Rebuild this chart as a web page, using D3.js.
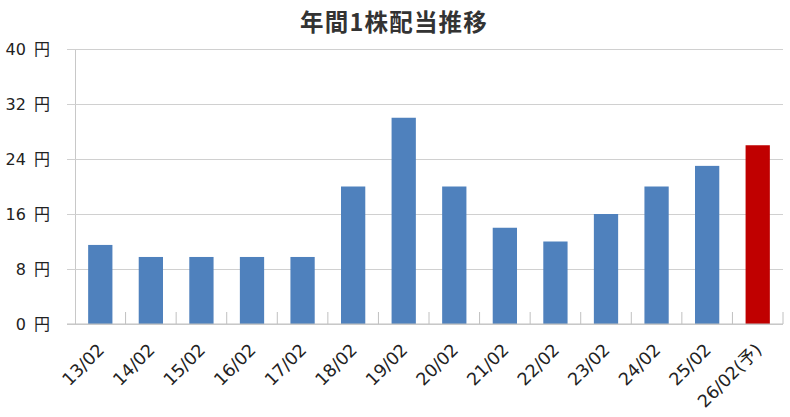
<!DOCTYPE html>
<html><head><meta charset="utf-8">
<script src="https://cdn.jsdelivr.net/npm/d3@7"></script>
<style>
html,body{margin:0;padding:0;background:#fff;}
svg{display:block;}
</style></head>
<body>
<svg id="chart" width="790" height="417"></svg>
<script>
const categories = ["13/02","14/02","15/02","16/02","17/02","18/02","19/02","20/02","21/02","22/02","23/02","24/02","25/02","26/02(予)"];
const dividends = [11.5, 9.75, 9.75, 9.75, 9.75, 20, 30, 20, 14, 12, 16, 20, 23, 26];
const forecast = [false,false,false,false,false,false,false,false,false,false,false,false,false,true];
const yTicks = [0, 8, 16, 24, 32, 40];
const title = "年間1株配当推移";

(function () {
const svg = d3.select("#chart");
const pLeft = 75, pRight = 783, pTop = 49, pBottom = 324;
const font = "'DejaVu Sans','Noto Sans CJK JP',sans-serif";

const x = d3.scaleBand().domain(categories).range([pLeft, pRight]).paddingInner(0.52).paddingOuter(0.26);
const y = d3.scaleLinear().domain([0, 40]).range([pBottom, pTop]);

// title
svg.append("text").attr("x", 394).attr("y", 31).attr("text-anchor", "middle")
  .attr("font-family", "'Noto Sans CJK JP',sans-serif").attr("font-weight", "bold")
  .attr("font-size", 23.5).attr("fill", "#333").attr("letter-spacing", 1.2).text(title);

// gridlines + y axis
const yAxis = d3.axisLeft(y).tickValues(yTicks).tickSize(-(pRight - pLeft)).tickSizeOuter(0)
  .tickPadding(0).tickFormat(d => d + " 円");
const gy = svg.append("g").attr("transform", `translate(${pLeft},0)`).call(yAxis);
gy.select(".domain").attr("stroke", "#c8c8c8");
gy.selectAll(".tick line").attr("stroke", "#d0d0d0").attr("x1", -8);
gy.selectAll(".tick text").attr("x", -25).attr("font-family", font).attr("font-size", 16)
  .attr("word-spacing", 3).attr("fill", "#222").attr("dy", "0.36em");

// bars
svg.append("g").selectAll("rect").data(categories).join("rect")
  .attr("x", d => x(d)).attr("width", x.bandwidth())
  .attr("y", (d, i) => y(dividends[i])).attr("height", (d, i) => y(0) - y(dividends[i]))
  .attr("fill", (d, i) => forecast[i] ? "#C00000" : "#4F81BD");

// x axis
const gx = svg.append("g").attr("transform", `translate(0,${pBottom})`);
gx.append("line").attr("x1", pLeft - 8).attr("x2", pRight).attr("y1", 0).attr("y2", 0).attr("stroke", "#c0c0c0");
const step = x.step();
gx.selectAll(".bt").data(d3.range(1, categories.length + 1)).join("line")
  .attr("class", "bt").attr("x1", i => pLeft + i * step).attr("x2", i => pLeft + i * step)
  .attr("y1", -12).attr("y2", 0).attr("stroke", "#c0c0c0");
gx.selectAll(".lbl").data(categories).join("text").attr("class", "lbl")
  .attr("transform", d => `translate(${x(d) + x.bandwidth() / 2 + 5},${27}) rotate(-45)`)
  .attr("text-anchor", "end").attr("font-family", font).attr("font-size", 17.5)
  .attr("fill", "#222").text(d => d);
})();
</script>
</body></html>
